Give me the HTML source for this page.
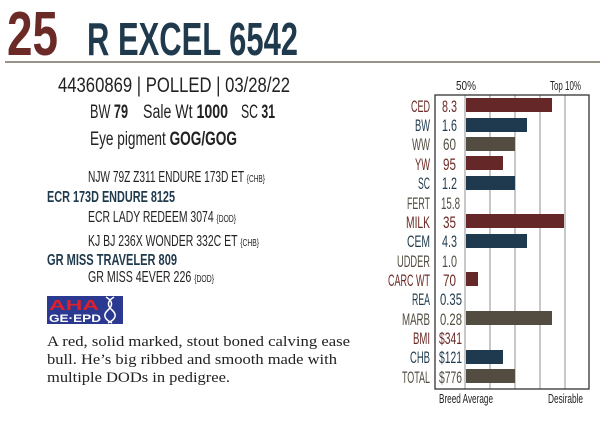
<!DOCTYPE html>
<html><head><meta charset="utf-8"><style>
html,body{margin:0;padding:0;background:#fff;width:600px;height:424px;overflow:hidden}
svg{display:block}
.c{font-family:"Liberation Sans",sans-serif}
</style></head><body>
<svg width="600" height="424" viewBox="0 0 600 424" xmlns="http://www.w3.org/2000/svg" class="c">
<text x="7" y="55" font-size="62" font-weight="bold" fill="#6b2a26" textLength="51" lengthAdjust="spacingAndGlyphs">25</text>
<text x="87" y="55" font-size="46" font-weight="bold" fill="#1f3a4c" textLength="211" lengthAdjust="spacingAndGlyphs">R EXCEL 6542</text>
<line x1="5" y1="62" x2="600" y2="62" stroke="#5a5040" stroke-width="1.3"/>
<text x="58" y="92" font-size="21" fill="#222" textLength="232" lengthAdjust="spacingAndGlyphs">44360869 | POLLED | 03/28/22</text>
<g font-size="19" fill="#222">
<text x="90" y="118" textLength="38" lengthAdjust="spacingAndGlyphs">BW <tspan font-weight="bold">79</tspan></text>
<text x="143" y="118" textLength="85" lengthAdjust="spacingAndGlyphs">Sale Wt <tspan font-weight="bold">1000</tspan></text>
<text x="241" y="118" textLength="34" lengthAdjust="spacingAndGlyphs">SC <tspan font-weight="bold">31</tspan></text>
<text x="90" y="145" textLength="147" lengthAdjust="spacingAndGlyphs">Eye pigment <tspan font-weight="bold">GOG/GOG</tspan></text>
</g>
<g font-size="15.5" fill="#222">
<text x="88" y="182" textLength="177" lengthAdjust="spacingAndGlyphs">NJW 79Z Z311 ENDURE 173D ET <tspan font-size="10">{CHB}</tspan></text>
<text x="47" y="202" font-weight="bold" fill="#1f3a4c" textLength="128" lengthAdjust="spacingAndGlyphs">ECR 173D ENDURE 8125</text>
<text x="88" y="222" textLength="148" lengthAdjust="spacingAndGlyphs">ECR LADY REDEEM 3074 <tspan font-size="10">{DOD}</tspan></text>
<text x="88" y="246" textLength="171" lengthAdjust="spacingAndGlyphs">KJ BJ 236X WONDER 332C ET <tspan font-size="10">{CHB}</tspan></text>
<text x="47" y="265" font-weight="bold" fill="#1f3a4c" textLength="130" lengthAdjust="spacingAndGlyphs">GR MISS TRAVELER 809</text>
<text x="88" y="282" textLength="126" lengthAdjust="spacingAndGlyphs">GR MISS 4EVER 226 <tspan font-size="10">{DOD}</tspan></text>
</g>
<rect x="47" y="296" width="76" height="28" fill="#2b3990"/>
<text x="49" y="310" font-size="15" font-weight="bold" fill="#e01f2d" textLength="50" lengthAdjust="spacingAndGlyphs">AHA</text>
<text x="49" y="322" font-size="11" font-weight="bold" fill="#fff" textLength="52" lengthAdjust="spacingAndGlyphs">GE·EPD</text>
<path d="M106 297 Q116 303 108 310 Q100 317 112 323 M114 297 Q104 303 112 310 Q120 317 108 323" stroke="#fff" stroke-width="1.5" fill="none"/>
<g font-family="Liberation Serif,serif" font-size="15" fill="#222">
<text x="47" y="346" textLength="303" lengthAdjust="spacingAndGlyphs">A red, solid marked, stout boned calving ease</text>
<text x="47" y="364" textLength="290" lengthAdjust="spacingAndGlyphs">bull. He’s big ribbed and smooth made with</text>
<text x="47" y="382" textLength="183" lengthAdjust="spacingAndGlyphs">multiple DODs in pedigree.</text>
</g>
<g stroke="#aaa" stroke-width="1.3">
<line x1="465" y1="95" x2="465" y2="389"/><line x1="490" y1="95" x2="490" y2="389"/>
<line x1="515" y1="95" x2="515" y2="389"/><line x1="540" y1="95" x2="540" y2="389"/>
<line x1="565" y1="95" x2="565" y2="389"/>
</g>
<rect x="435" y="95" width="154" height="294" fill="none" stroke="#333" stroke-width="1.3"/>
<g font-size="12.5" fill="#222">
<text x="456" y="90" textLength="20" lengthAdjust="spacingAndGlyphs">50%</text>
<text x="550" y="90" textLength="31" lengthAdjust="spacingAndGlyphs">Top 10%</text>
<text x="439" y="403" textLength="54" lengthAdjust="spacingAndGlyphs">Breed Average</text>
<text x="548" y="403" textLength="35" lengthAdjust="spacingAndGlyphs">Desirable</text>
</g>
<g font-size="17">
<g fill="#6b2a26"><text x="411" y="112" textLength="19" lengthAdjust="spacingAndGlyphs">CED</text><text x="442" y="112" textLength="15" lengthAdjust="spacingAndGlyphs">8.3</text></g>
<g fill="#1f3a4c"><text x="415" y="131" textLength="15" lengthAdjust="spacingAndGlyphs">BW</text><text x="442" y="131" textLength="15" lengthAdjust="spacingAndGlyphs">1.6</text></g>
<g fill="#524d40"><text x="412" y="150" textLength="18" lengthAdjust="spacingAndGlyphs">WW</text><text x="443" y="150" textLength="13" lengthAdjust="spacingAndGlyphs">60</text></g>
<g fill="#6b2a26"><text x="415" y="170" textLength="15" lengthAdjust="spacingAndGlyphs">YW</text><text x="443" y="170" textLength="13" lengthAdjust="spacingAndGlyphs">95</text></g>
<g fill="#1f3a4c"><text x="418" y="189" textLength="12" lengthAdjust="spacingAndGlyphs">SC</text><text x="442" y="189" textLength="15" lengthAdjust="spacingAndGlyphs">1.2</text></g>
<g fill="#524d40"><text x="407" y="209" textLength="23" lengthAdjust="spacingAndGlyphs">FERT</text><text x="441" y="209" textLength="19" lengthAdjust="spacingAndGlyphs">15.8</text></g>
<g fill="#6b2a26"><text x="406" y="228" textLength="24" lengthAdjust="spacingAndGlyphs">MILK</text><text x="443" y="228" textLength="13" lengthAdjust="spacingAndGlyphs">35</text></g>
<g fill="#1f3a4c"><text x="407" y="247" textLength="23" lengthAdjust="spacingAndGlyphs">CEM</text><text x="442" y="247" textLength="15" lengthAdjust="spacingAndGlyphs">4.3</text></g>
<g fill="#524d40"><text x="397" y="267" textLength="33" lengthAdjust="spacingAndGlyphs">UDDER</text><text x="442" y="267" textLength="15" lengthAdjust="spacingAndGlyphs">1.0</text></g>
<g fill="#6b2a26"><text x="388" y="286" textLength="42" lengthAdjust="spacingAndGlyphs">CARC WT</text><text x="443" y="286" textLength="13" lengthAdjust="spacingAndGlyphs">70</text></g>
<g fill="#1f3a4c"><text x="412" y="305" textLength="18" lengthAdjust="spacingAndGlyphs">REA</text><text x="440" y="305" textLength="22" lengthAdjust="spacingAndGlyphs">0.35</text></g>
<g fill="#524d40"><text x="402" y="325" textLength="28" lengthAdjust="spacingAndGlyphs">MARB</text><text x="440" y="325" textLength="22" lengthAdjust="spacingAndGlyphs">0.28</text></g>
<g fill="#6b2a26"><text x="413" y="344" textLength="17" lengthAdjust="spacingAndGlyphs">BMI</text><text x="439" y="344" textLength="23" lengthAdjust="spacingAndGlyphs">$341</text></g>
<g fill="#1f3a4c"><text x="410" y="363" textLength="20" lengthAdjust="spacingAndGlyphs">CHB</text><text x="439" y="363" textLength="23" lengthAdjust="spacingAndGlyphs">$121</text></g>
<g fill="#524d40"><text x="402" y="383" textLength="28" lengthAdjust="spacingAndGlyphs">TOTAL</text><text x="439" y="383" textLength="23" lengthAdjust="spacingAndGlyphs">$776</text></g>
</g>
<rect x="466" y="98" width="86" height="14" fill="#662728"/>
<rect x="466" y="118" width="61" height="14" fill="#1f3a4f"/>
<rect x="466" y="137" width="49" height="14" fill="#524d40"/>
<rect x="466" y="156" width="37" height="14" fill="#662728"/>
<rect x="466" y="176" width="49" height="14" fill="#1f3a4f"/>
<rect x="466" y="214" width="98" height="14" fill="#662728"/>
<rect x="466" y="234" width="61" height="14" fill="#1f3a4f"/>
<rect x="466" y="272" width="12" height="14" fill="#662728"/>
<rect x="466" y="311" width="86" height="14" fill="#524d40"/>
<rect x="466" y="350" width="37" height="14" fill="#1f3a4f"/>
<rect x="466" y="369" width="49" height="14" fill="#524d40"/>
</svg>
</body></html>
